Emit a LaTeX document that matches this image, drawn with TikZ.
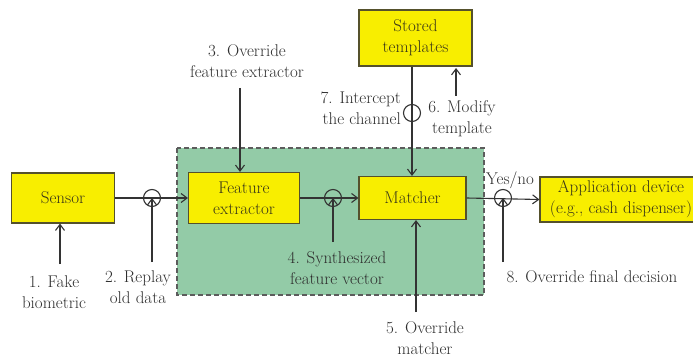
\documentclass[tikz,border=0pt]{standalone}
\usepackage{fontspec}
\usetikzlibrary{arrows.meta}
\definecolor{boxyellow}{HTML}{F8EE00}
\definecolor{boxedge}{HTML}{55512C}
\definecolor{boxtext}{HTML}{3A3718}
\definecolor{greenfill}{HTML}{93CBA7}
\definecolor{lincol}{HTML}{333333}
\definecolor{txtcol}{HTML}{2E2E2E}
\tikzset{
  blockbox/.style={draw=boxedge, line width=1.1pt, fill=boxyellow, text=boxtext, align=center, inner sep=2pt, font=\fontsize{17}{21}\selectfont},
  lbl/.style={text=txtcol, align=center, inner sep=0pt, font=\fontsize{17}{21}\selectfont},
  conn/.style={draw=lincol, line width=1.1pt},
  arr/.style={conn, -{Straight Barb[length=6pt,width=9pt]}},
  tapcirc/.style={circle, draw=lincol, line width=1.1pt, minimum size=17pt, inner sep=0pt}
}
\begin{document}
\begin{tikzpicture}[x=1pt,y=-1pt]
\useasboundingbox (0,0) rectangle (693,358);
% green region
\draw[fill=greenfill, draw=lincol!80, line width=1.1pt, dash pattern=on 5pt off 3pt] (177,148) rectangle (484,295);
% blocks
\node[blockbox, minimum width=103pt, minimum height=50pt] (sensor) at (63,198) {Sensor};
\node[blockbox, minimum width=111pt, minimum height=51pt] (fe) at (244,198) {Feature\\extractor};
\node[blockbox, minimum width=107pt, minimum height=43pt] (matcher) at (412.5,198) {Matcher};
\node[blockbox, minimum width=113pt, minimum height=56pt] (st) at (415.5,38) {Stored\\templates};
\node[blockbox, minimum width=162pt, minimum height=45pt] (app) at (621,199.5) {Application device\\(e.g., cash dispenser)};
% tap circles
\node[tapcirc] (c1) at (152,198) {};
\node[tapcirc] (c2) at (333,198) {};
\node[tapcirc] (c8) at (503,198) {};
\node[tapcirc] (c7) at (412,113) {};
% main flow
\draw[arr] (sensor.east) -- (fe.west);
\draw[arr] (fe.east) -- (matcher.west);
\draw[arr] (matcher.east) -- (app.west);
\draw[arr] (st.south -| c7) -- (c7 |- matcher.north);
% labels
\node[lbl] (l1) at (54,292) {1. Fake\\biometric};
\node[lbl] (l2) at (138,287) {2. Replay\\old data};
\node[lbl] (l3) at (247,61) {3. Override\\feature extractor};
\node[lbl] (l4) at (337,268) {4. Synthesized\\feature vector};
\node[lbl] (l5) at (425,338) {5. Override\\matcher};
\node[lbl] (l6) at (462,119) {6. Modify\\template};
\node[lbl, align=right, anchor=east] (l7) at (401,108) {7. Intercept\\the channel};
\node[lbl] (l8) at (592,277) {8. Override final decision};
\node[lbl] (yn) at (510,180) {Yes/no};
% attack arrows
\coordinate (a1) at (60,264);
\coordinate (a2) at (152,262);
\coordinate (a3) at (240,88);
\coordinate (a4) at (333,242);
\coordinate (a5) at (416,312);
\coordinate (a6) at (456,96);
\coordinate (a6e) at (456,68);
\coordinate (a8) at (503,262);
\draw[arr] (a1) -- (a1 |- sensor.south);
\draw[arr] (a2) -- (c1.center);
\draw[arr] (a3) -- (a3 |- fe.north);
\draw[arr] (a4) -- (c2.center);
\draw[arr] (a5) -- (a5 |- matcher.south);
\draw[arr] (a6) -- (a6e);
\draw[arr] (a8) -- (c8.center);
\end{tikzpicture}
\end{document}
